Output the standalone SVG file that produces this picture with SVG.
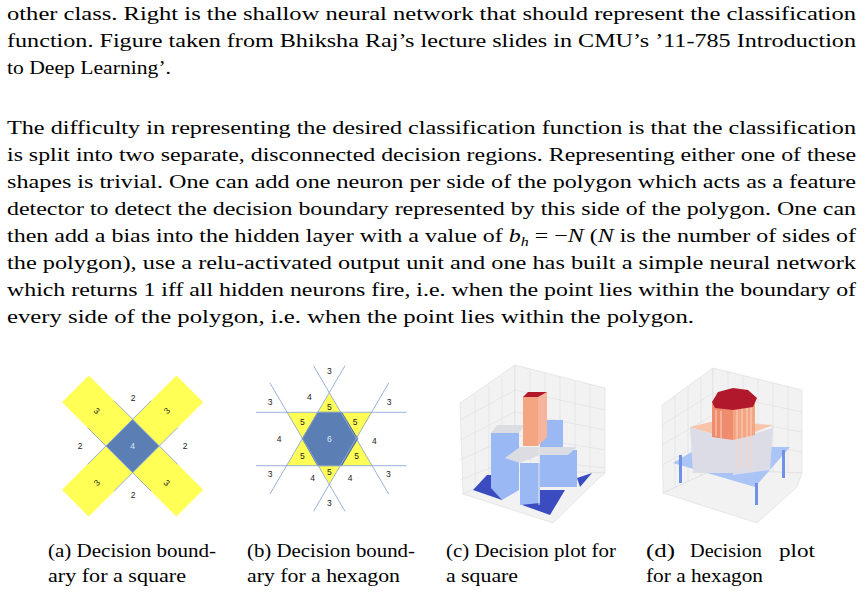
<svg xmlns="http://www.w3.org/2000/svg" width="864" height="593" viewBox="0 0 864 593">
<style>
.t{font-family:"Liberation Serif","DejaVu Serif",serif;font-size:19.5px;fill:#000}
.s{font-family:"Liberation Sans","DejaVu Sans",sans-serif;font-size:8.5px;fill:#222;text-anchor:middle}
.ln{stroke:#8fa9d4;stroke-width:0.9;fill:none}
.pane{fill:#f2f2f2;stroke:#dcdcdc;stroke-width:0.6}
.g{stroke:#dadada;stroke-width:0.5}
</style>
<rect width="864" height="593" fill="#fff"/>
<g id="text">
<text class="t" x="7" y="20" textLength="849" lengthAdjust="spacingAndGlyphs">other class.  Right is the shallow neural network that should represent the classification</text>
<text class="t" x="7" y="47" textLength="849" lengthAdjust="spacingAndGlyphs">function. Figure taken from Bhiksha Raj’s lecture slides in CMU’s ’11-785 Introduction</text>
<text class="t" x="7" y="74" textLength="164" lengthAdjust="spacingAndGlyphs">to Deep Learning’.</text>
<text class="t" x="7" y="134" textLength="849" lengthAdjust="spacingAndGlyphs">The difficulty in representing the desired classification function is that the classification</text>
<text class="t" x="7" y="161" textLength="849" lengthAdjust="spacingAndGlyphs">is split into two separate, disconnected decision regions. Representing either one of these</text>
<text class="t" x="7" y="188" textLength="849" lengthAdjust="spacingAndGlyphs">shapes is trivial. One can add one neuron per side of the polygon which acts as a feature</text>
<text class="t" x="7" y="215" textLength="849" lengthAdjust="spacingAndGlyphs">detector to detect the decision boundary represented by this side of the polygon. One can</text>
<text class="t" x="7" y="242" textLength="849" lengthAdjust="spacingAndGlyphs">then add a bias into the hidden layer with a value of <tspan font-style="italic">b</tspan><tspan font-style="italic" font-size="13" dy="4">h</tspan><tspan dy="-4"> = −</tspan><tspan font-style="italic">N</tspan> (<tspan font-style="italic">N</tspan> is the number of sides of</text>
<text class="t" x="7" y="269" textLength="849" lengthAdjust="spacingAndGlyphs">the polygon), use a relu-activated output unit and one has built a simple neural network</text>
<text class="t" x="7" y="296" textLength="849" lengthAdjust="spacingAndGlyphs">which returns 1 iff all hidden neurons fire, i.e. when the point lies within the boundary of</text>
<text class="t" x="7" y="323" textLength="687" lengthAdjust="spacingAndGlyphs">every side of the polygon, i.e. when the point lies within the polygon.</text>
</g>
<g id="fig-a">
<g transform="translate(132.6,446) rotate(45)">
<rect x="-18.9" y="-80.9" width="37.8" height="62" fill="#ffff55"/>
<rect x="-18.9" y="18.9" width="37.8" height="62" fill="#ffff55"/>
<rect x="-80.9" y="-18.9" width="62" height="37.8" fill="#ffff55"/>
<rect x="18.9" y="-18.9" width="62" height="37.8" fill="#ffff55"/>
<rect x="-18.9" y="-18.9" width="37.8" height="37.8" fill="#5b7fb5"/>
<line class="ln" x1="-18.9" y1="-45" x2="-18.9" y2="45"/>
<line class="ln" x1="18.9" y1="-45" x2="18.9" y2="45"/>
<line class="ln" x1="-45" y1="-18.9" x2="45" y2="-18.9"/>
<line class="ln" x1="-45" y1="18.9" x2="45" y2="18.9"/>
</g>
<text class="s" x="132.6" y="449" style="fill:#dde6f5">4</text>
<text class="s" x="133" y="401">2</text>
<text class="s" x="80" y="449">2</text>
<text class="s" x="185" y="449">2</text>
<text class="s" x="133" y="498">2</text>
<text class="s" transform="translate(96.7,410.7) rotate(45)" y="3">3</text>
<text class="s" transform="translate(166.7,410.7) rotate(-45)" y="3">3</text>
<text class="s" transform="translate(96.7,482.7) rotate(-45)" y="3">3</text>
<text class="s" transform="translate(166.7,482.7) rotate(45)" y="3">3</text>
</g>
<g id="fig-b">
<polygon points="329.3,392.7 372.3,465.7 286.7,465.7" fill="#ffff55"/>
<polygon points="329.3,484.3 372.3,412.3 286.7,412.3" fill="#ffff55"/>
<polygon points="317.7,412.3 341.7,412.3 357.7,438.7 341.7,465.7 317.7,465.7 302.3,438.7" fill="#5b7fb5" stroke="#3d5f94" stroke-width="0.8"/>
<line class="ln" x1="256" y1="412.3" x2="406.7" y2="412.3"/>
<line class="ln" x1="256" y1="465.7" x2="406.7" y2="465.7"/>
<line class="ln" x1="345" y1="365.7" x2="270" y2="494"/>
<line class="ln" x1="313.5" y1="365.7" x2="388.7" y2="494"/>
<line class="ln" x1="345" y1="511.3" x2="270" y2="383"/>
<line class="ln" x1="313.5" y1="511.3" x2="388.7" y2="383"/>
<text class="s" x="329.3" y="441.5" style="fill:#dde6f5">6</text>
<text class="s" x="329.3" y="409.7">5</text>
<text class="s" x="302.3" y="424.7">5</text>
<text class="s" x="355" y="424.7">5</text>
<text class="s" x="302.3" y="459">5</text>
<text class="s" x="356.7" y="459">5</text>
<text class="s" x="329.3" y="475.3">5</text>
<text class="s" x="309.3" y="400.3">4</text>
<text class="s" x="279" y="441.7">4</text>
<text class="s" x="374.3" y="443.7">4</text>
<text class="s" x="312.7" y="480.7">4</text>
<text class="s" x="350" y="480.7">4</text>
<text class="s" x="329.3" y="373.7">3</text>
<text class="s" x="270" y="404.7">3</text>
<text class="s" x="389" y="405.3">3</text>
<text class="s" x="270" y="477">3</text>
<text class="s" x="388.3" y="477.3">3</text>
<text class="s" x="329.3" y="506.3">3</text>
</g>
<g id="fig-c">
<polygon class="pane" points="460,403 515,365 515,470 463,494"/>
<polygon class="pane" points="515,365 605,388 605,473 515,470"/>
<polygon class="pane" points="463,494 515,470 605,473 597,480 553,523"/>
<path class="g" d="M475,395V490 M489,385V484 M502,376V478 M530,369V470 M545,373V471 M560,377V471 M575,381V472 M590,384V472 M460,420L515,390 M460,440L515,412 M460,460L515,435 M460,480L515,458 M515,390L605,410 M515,412L605,430 M515,435L605,450 M515,458L605,468"/>
<polygon points="473,490 487,475 515,475 502,500" fill="#3b4cc0"/>
<polygon points="522,505 537,490 565,490 550,515" fill="#3b4cc0"/>
<polygon points="577,478 592,473 580,487" fill="#3b4cc0"/>
<polygon points="491,433 519,433 519,490 502,500 491,488" fill="#9ab8f3"/>
<polygon points="491,433 497,425 525,425 519,433" fill="#dcdde3"/>
<polygon points="540,450 577,450 577,487 540,487" fill="#9ab8f3"/>
<polygon points="540,420 563,420 563,450 540,450" fill="#9ab8f3"/>
<polygon points="520,463 540,463 540,503 520,505" fill="#9ab8f3"/>
<polygon points="505,458 520,447 577,447 568,455 540,455 520,463" fill="#dcdde3"/>
<line x1="539" y1="436" x2="539" y2="505" stroke="#e6e6e6" stroke-width="1"/>
<polygon points="523,397 538,397 538,446 523,446" fill="#f4a582"/>
<polygon points="538,397 547,392 547,437 538,446" fill="#f6b59a"/>
<polygon points="523,397 528,392 547,392 538,397" fill="#b2182b"/>
</g>
<g id="fig-d">
<polygon class="pane" points="662,405 713,368 713,470 663,493"/>
<polygon class="pane" points="713,368 802,390 802,473 713,470"/>
<polygon class="pane" points="663,493 713,470 802,473 797,487 757,523"/>
<path class="g" d="M675,396V488 M688,387V482 M701,378V476 M728,372V470 M743,376V471 M758,380V471 M773,383V472 M788,386V472 M662,425L713,393 M662,445L713,415 M662,465L713,437 M713,393L802,412 M713,415L802,432 M713,437L802,452"/>
<polygon points="673,463 700,447 790,447 755,487" fill="#a9c4f5"/>
<rect x="679" y="455" width="3" height="28" fill="#6f92e6"/>
<rect x="782" y="450" width="3" height="28" fill="#6f92e6"/>
<rect x="755" y="483" width="3" height="22" fill="#6f92e6"/>
<polygon points="690,427 733,440 733,473 693,473" fill="#dcdce6"/>
<polygon points="733,440 773,428 770,470 733,475" fill="#dcdce6"/>
<polygon points="690,427 710,422 773,425 733,440" fill="#f7c4a8"/>
<polygon points="712,403 733,408 733,440 712,437" fill="#f08c6e"/>
<polygon points="733,408 755,403 755,435 733,440" fill="#f4a582"/>
<path d="M716,410V436 M721,411V438 M737,410V470 M742,408V468 M747,406V466 M751,405V470" stroke="#f9d4c4" stroke-width="1"/>
<polygon points="712,402 718,392 733,388 748,390 757,398 753,407 733,410 715,408" fill="#b2182b"/>
</g>
<g id="captions">
<text class="t" x="48" y="557" textLength="168" lengthAdjust="spacingAndGlyphs">(a) Decision bound-</text>
<text class="t" x="48" y="582" textLength="138" lengthAdjust="spacingAndGlyphs">ary for a square</text>
<text class="t" x="247" y="557" textLength="168" lengthAdjust="spacingAndGlyphs">(b) Decision bound-</text>
<text class="t" x="247" y="582" textLength="153" lengthAdjust="spacingAndGlyphs">ary for a hexagon</text>
<text class="t" x="446" y="557" textLength="170" lengthAdjust="spacingAndGlyphs">(c) Decision plot for</text>
<text class="t" x="446" y="582" textLength="72" lengthAdjust="spacingAndGlyphs">a square</text>
<text class="t" y="557"><tspan x="646" textLength="29" lengthAdjust="spacingAndGlyphs">(d)</tspan><tspan x="690" textLength="72" lengthAdjust="spacingAndGlyphs">Decision</tspan><tspan x="779" textLength="36" lengthAdjust="spacingAndGlyphs">plot</tspan></text>
<text class="t" x="646" y="582" textLength="117" lengthAdjust="spacingAndGlyphs">for a hexagon</text>
</g>
</svg>
